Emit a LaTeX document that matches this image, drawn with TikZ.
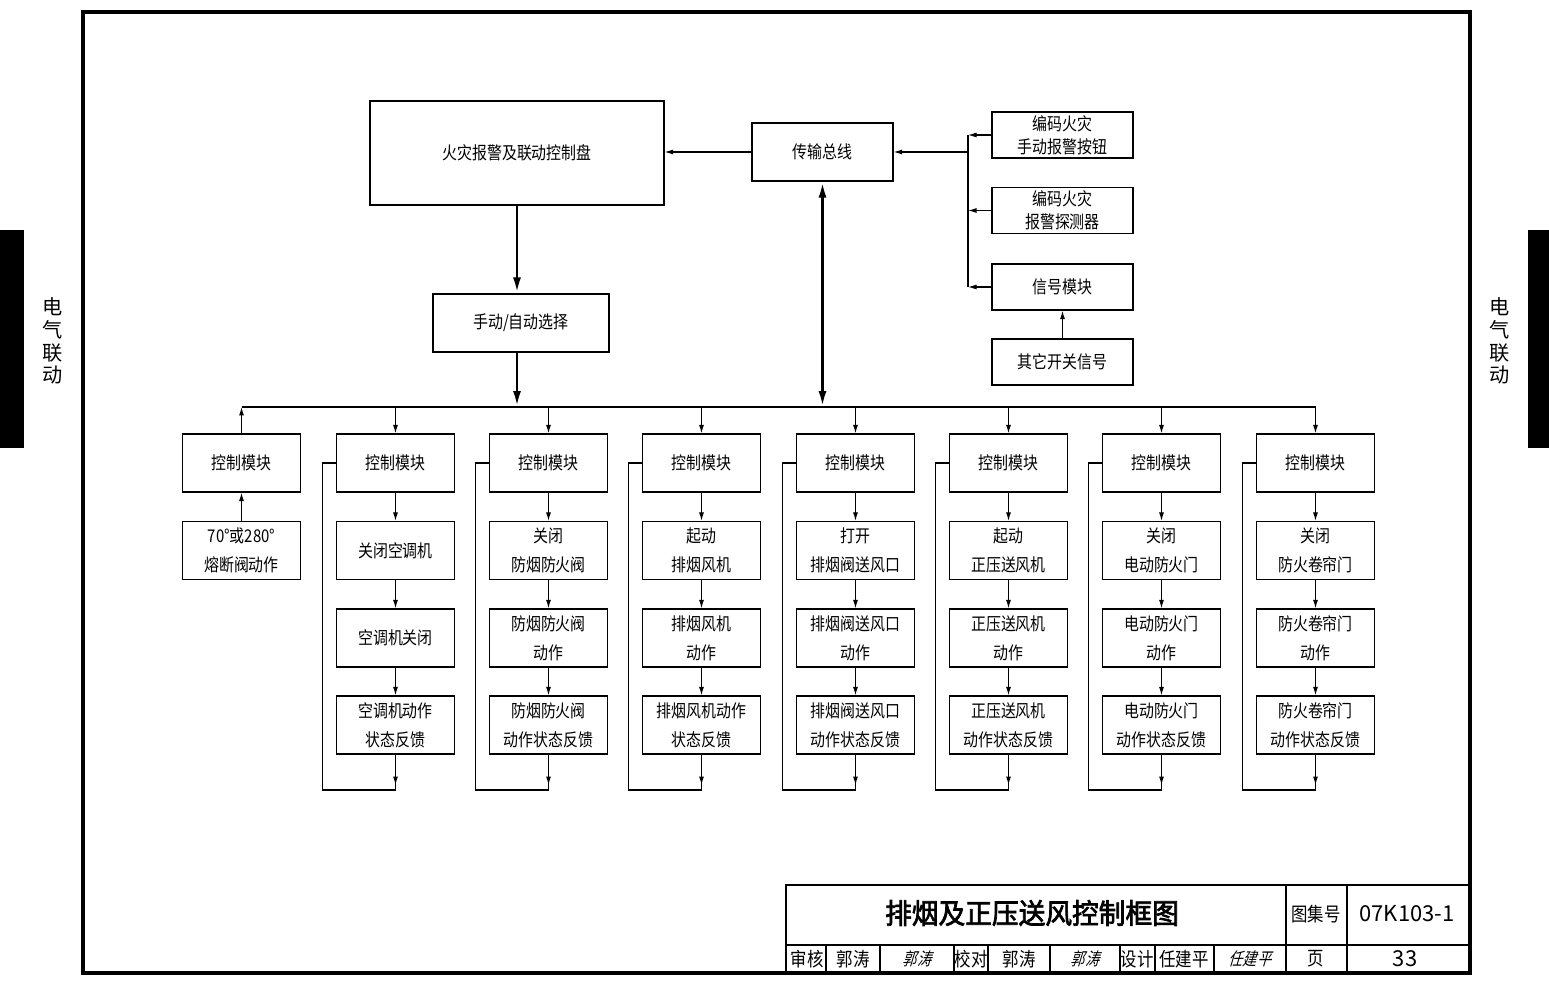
\documentclass[tikz,border=0pt]{standalone}
\usepackage{fontspec}
\setmainfont{Noto Sans CJK SC}
\newfontfamily\fsong{Noto Sans CJK SC}[FakeStretch=0.85]
\newfontfamily\fhei{Noto Sans CJK SC}[FakeStretch=0.95,FakeBold=2.5]
\newfontfamily\fsig{Noto Sans CJK SC}[FakeStretch=0.8,FakeSlant=0.3]
\usetikzlibrary{arrows.meta}

\begin{document}
\begin{tikzpicture}[x=0.02cm,y=-0.02cm,
  blk/.style={draw,line width=0.7pt,minimum width=2.36cm,minimum height=1.16cm,
    align=center,inner sep=1pt,font=\fsong\fontsize{10}{16.5}\selectfont},
  arr/.style={line width=0.6pt,-{Latex[length=1.7mm,width=1mm]}},
  bigarr/.style={line width=1.6pt,-{Latex[length=3.2mm,width=1.6mm]}},
  tb/.style={font=\fsong\fontsize{11}{12}\selectfont},
  tnum/.style={font=\fontsize{12.5}{14}\selectfont}]
  \useasboundingbox (0,0) rectangle (1549,986);
  % frame and side tabs
  \draw[line width=1.8pt] (83,12) rectangle (1470,973);
  \fill (0,230) rectangle (24,448);
  \fill (1528,230) rectangle (1549,448);
  \node[font=\fontsize{11.5}{13}\selectfont,align=center] (tabL) at (53,341) {电\\气\\联\\动};
  \node[font=\fontsize{11.5}{13}\selectfont,align=center] (tabR) at (1500,341) {电\\气\\联\\动};

  % upper part
  \node[blk,minimum width=5.88cm,minimum height=2.08cm] (panel) at (517,153) {火灾报警及联动控制盘};
  \node[blk,minimum width=2.82cm] (trans) at (822.5,152) {传输总线};
  \node[blk,minimum width=3.52cm] (sel) at (521,323) {手动/自动选择};
  \tikzset{rblk/.style={blk,minimum width=2.82cm,minimum height=0.92cm,font=\fsong\fontsize{10}{13}\selectfont}}
  \node[rblk] (e1) at (1062.5,135) {编码火灾\\手动报警按钮};
  \node[rblk] (e2) at (1062.5,210.5) {编码火灾\\报警探测器};
  \node[rblk] (e3) at (1062.5,287) {信号模块};
  \node[rblk] (e4) at (1062.5,362) {其它开关信号};
  \coordinate (rj) at (968,152);
  \draw[line width=1.4pt] (e1.west -| rj) -- (e3.west -| rj);
  \foreach \k in {1,2,3} \draw[arr] (e\k) -- (e\k.west -| rj);
  \draw[arr] (rj) -- (trans);
  \draw[arr] (trans.west) -- (trans.west -| panel.east);
  \draw[arr] (e4) -- (e3);

  % bus
  \coordinate (busL) at (242,407); \coordinate (busR) at (1316,407);
  \draw[line width=1.6pt] (busL) -- (busR);
  \draw[bigarr] (panel) -- (panel |- sel.north);
  \draw[bigarr] (sel.south -| panel) -- (panel |- busL);
  \draw[line width=1.6pt,{Latex[length=3.2mm,width=1.6mm]}-{Latex[length=3.2mm,width=1.6mm]}] (trans) -- (trans |- busL);

  % columns
  \node[blk] (m1) at (241.5,463) {控制模块};
  \node[blk] (f1) at (241.5,550.5) {70°或280°\\熔断阀动作};
  \draw[arr] (f1) -- (m1);
  \draw[arr] (m1) -- (m1 |- busL);
  \foreach \cx/\ta/\tb/\tc [count=\i from 2] in {
    395.5/{关闭空调机}/{空调机关闭}/{空调机动作\\状态反馈},
    548.5/{关闭\\防烟防火阀}/{防烟防火阀\\动作}/{防烟防火阀\\动作状态反馈},
    701.5/{起动\\排烟风机}/{排烟风机\\动作}/{排烟风机动作\\状态反馈},
    855.5/{打开\\排烟阀送风口}/{排烟阀送风口\\动作}/{排烟阀送风口\\动作状态反馈},
    1008.5/{起动\\正压送风机}/{正压送风机\\动作}/{正压送风机\\动作状态反馈},
    1161.5/{关闭\\电动防火门}/{电动防火门\\动作}/{电动防火门\\动作状态反馈},
    1315.5/{关闭\\防火卷帘门}/{防火卷帘门\\动作}/{防火卷帘门\\动作状态反馈}}{
    \node[blk] (m\i) at (\cx,463) {控制模块};
    \node[blk] (a\i) at (\cx,550.5) {\ta};
    \node[blk] (b\i) at (\cx,638) {\tb};
    \node[blk] (c\i) at (\cx,725) {\tc};
    \draw[arr] (m\i |- busL) -- (m\i.north);
    \draw[arr] (m\i) -- (a\i);
    \draw[arr] (a\i) -- (b\i);
    \draw[arr] (b\i) -- (c\i);
    \draw[arr] (c\i.south) -- (\cx,785);
    \draw[line width=0.6pt] (c\i.south) -- (\cx,790) -- ({\cx-73},790) -- ({\cx-73},463) -- (m\i.west);
  }

  % title block
  \draw[line width=1.2pt] (786,885) rectangle (1470,973);
  \draw[line width=0.6pt] (786,945) -- (1470,945);
  \draw[line width=0.6pt] (1286,885) -- (1286,973) (1347,885) -- (1347,973);
  \foreach \vx in {826,880,954,988,1050,1120,1155,1214}
    \draw[line width=0.6pt] (\vx,945) -- (\vx,973);
  \node[font=\fhei\fontsize{16}{18}\selectfont] (ttl) at (1032,913) {排烟及正压送风控制框图};
  \node[tb] (tjh) at (1316,914) {图集号};
  \node[tnum] (tno) at (1407,914) {07K103-1};
  \node[tb] (t1) at (807,959) {审核};
  \node[tb] (t2) at (853,959) {郭涛};
  \node[font=\fsig\fontsize{10}{12}\selectfont] (t3) at (917,959) {郭涛};
  \node[tb] (t4) at (971,959) {校对};
  \node[tb] (t5) at (1019,959) {郭涛};
  \node[font=\fsig\fontsize{10}{12}\selectfont] (t6) at (1085,959) {郭涛};
  \node[tb] (t7) at (1137,959) {设计};
  \node[tb] (t8) at (1184,959) {任建平};
  \node[font=\fsig\fontsize{10}{12}\selectfont] (t9) at (1250,959) {任建平};
  \node[tb] (t10) at (1316,959) {页};
  \node[tnum] (t11) at (1405,959) {33};
\end{tikzpicture}
\end{document}
